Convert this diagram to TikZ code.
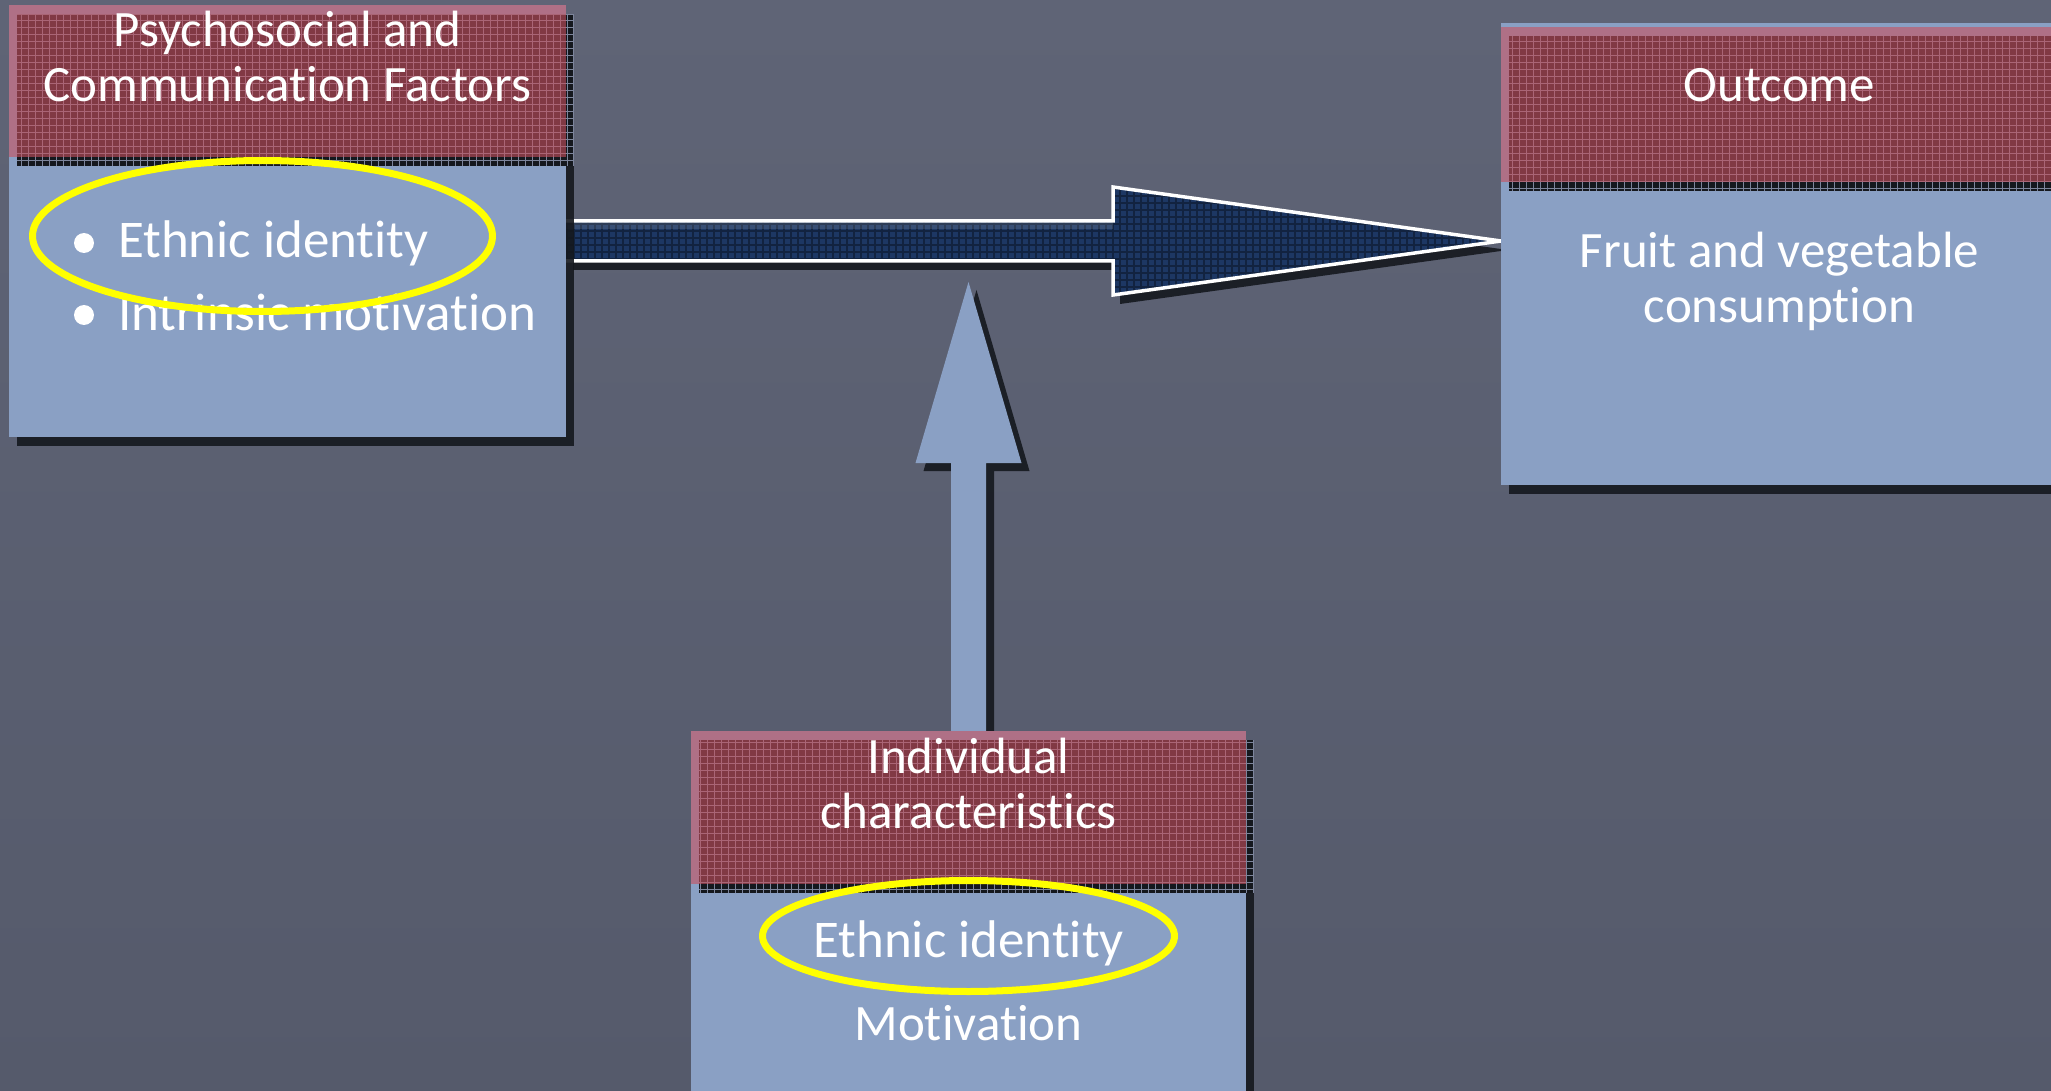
\documentclass[tikz,border=0pt]{standalone}
\usepackage{fontspec}
\setmainfont{Carlito}[Ligatures=NoCommon]
\usetikzlibrary{calc,shapes.geometric,shadows}

\definecolor{board}{HTML}{5F6476}
\definecolor{boardlow}{HTML}{555A6B}
\definecolor{panel}{HTML}{8AA0C4}
\definecolor{shadowink}{HTML}{15181E}
\definecolor{plaidline}{HTML}{7D859C}
\definecolor{headred}{HTML}{C9505E}
\definecolor{navy}{HTML}{1D3763}
\definecolor{marker}{HTML}{FFFF00}

\pgfdeclarelayer{boardlayer}
\pgfdeclarelayer{arrowlayer}
\pgfdeclarelayer{bodylayer}
\pgfdeclarelayer{hshadelayer}
\pgfsetlayers{boardlayer,arrowlayer,bodylayer,hshadelayer,main}

\tikzset{
  body/.style={rectangle, fill=panel, inner sep=0pt, outer sep=0pt,
    drop shadow={shadow xshift=4pt, shadow yshift=-4.5pt, fill=shadowink, opacity=0.9}},
  header/.style={rectangle, fill=headred, fill opacity=0.6, inner sep=0pt, outer sep=0pt,
    minimum width=278.5pt},
  plaid/.style={draw=plaidline, line width=0.5pt},
  words/.style={text=white, inner sep=0pt, outer sep=0pt,
    font=\fontsize{25.5}{27.5}\selectfont},
  itemwords/.style={words, font=\fontsize{26.5}{28}\selectfont},
  title/.style={words, align=center, anchor=base},
  dot/.style={circle, fill=white, minimum size=10pt, inner sep=0pt},
  ring/.style={ellipse, draw=marker, line width=3.5pt, inner sep=0pt},
  uparrow/.style={fill=panel},
  arrowshadow/.style={fill=shadowink, opacity=0.9},
}

\begin{document}
\begin{tikzpicture}[x=0.5pt, y=-0.5pt]
\useasboundingbox (0,0) rectangle (2051,1091);

% ---- panels ----
\begin{pgfonlayer}{bodylayer}
  \node[body, minimum width=278.5pt, minimum height=216pt]   (psy) at (287.5,221)  {};
  \node[body, minimum width=278.5pt, minimum height=231pt]   (out) at (1779.5,254) {};
  \node[body, minimum width=277.5pt, minimum height=189.5pt] (ind) at (968.5,920.5) {};
\end{pgfonlayer}

% ---- panel headers ----
\node[header, minimum height=76pt]   (psyhead) at (287.5,81)    {};
\node[header, minimum height=77.5pt] (outhead) at (1779.5,104.5) {};
\node[header, minimum height=76.5pt, minimum width=277.5pt] (indhead) at (968.5,807.5) {};

% checked shadows behind the headers
\begin{pgfonlayer}{hshadelayer}
  \foreach \h in {psyhead,outhead,indhead}{
    \fill[shadowink] ($(\h.south west)+(8,9)$) rectangle ($(\h.north east)+(8,9)$);
    \begin{scope}
      \clip ($(\h.south west)+(8,9)$) rectangle ($(\h.north east)+(8,9)$);
      \draw[plaid, step=3.5pt] ($(\h.south west)+(8,9)$) grid ($(\h.north east)+(8,9)$);
    \end{scope}
  }
\end{pgfonlayer}

% ---- connectors ----
\coordinate (hline) at (0,241);
\coordinate (vtip)  at (0,282);
\begin{pgfonlayer}{arrowlayer}
  \coordinate (hs) at (psy.east |- hline);
  \coordinate (ht) at (out.west |- hline);
  \def\harrow{(hs) -- ++(0,-20) -- ($(ht)+(-388,-20)$) -- ($(ht)+(-388,-54)$) -- (ht)
    -- ($(ht)+(-388,54)$) -- ($(ht)+(-388,20)$) -- ($(hs)+(0,20)$) -- cycle}
  \fill[arrowshadow, transform canvas={xshift=3.5pt, yshift=-4.5pt}] \harrow;
  \fill[navy] \harrow;
  \begin{scope}
    \clip \harrow;
    \draw[black, opacity=0.35, line width=0.6pt, step=3.5pt] (560,300) grid (1510,180);
    \fill[white, opacity=0.12] ($(hs)+(0,-20)$) rectangle ($(ht)+(-388,-12)$);
  \end{scope}
  \draw[white, line width=1.75pt, line join=miter]
    ($(hs)+(0,-20)$) -- ($(ht)+(-388,-20)$) -- ($(ht)+(-388,-54)$) -- (ht)
    -- ($(ht)+(-388,54)$) -- ($(ht)+(-388,20)$) -- ($(hs)+(0,20)$);

  \coordinate (vb) at (indhead.north);
  \coordinate (vt) at (vb |- vtip);
  \def\varrow{($(vb)+(-17.5,0)$) -- ($(vt)+(-17.5,181)$) -- ($(vt)+(-53,181)$) -- (vt)
    -- ($(vt)+(53,181)$) -- ($(vt)+(17.5,181)$) -- ($(vb)+(17.5,0)$) -- cycle}
  \fill[arrowshadow, transform canvas={xshift=4pt, yshift=-4pt}] \varrow;
  \fill[uparrow] \varrow;
\end{pgfonlayer}

% ---- board ----
\begin{pgfonlayer}{boardlayer}
  \shade[top color=board, bottom color=boardlow] (0,0) rectangle (2051,1091);
\end{pgfonlayer}

% ---- texts (base anchor sits on the last line) ----
\node[title] (psytitle) at (287.5,102)  {Psychosocial and\\Communication Factors};
\node[title] (outtitle) at (1779.5,102) {Outcome};
\node[title] (indtitle) at (968.5,828)  {Individual\\characteristics};
\node[title] (fruit)    at (1779.5,322) {Fruit and vegetable\\consumption};

\node[dot] (b1) at (84,243) {};
\node[dot] (b2) at (84,315) {};
\node[itemwords, anchor=base west] (eth1) at (118,258) {Ethnic identity};
\node[itemwords, anchor=base west] (mot1) at (118,330) {Intrinsic motivation};

\node[itemwords, anchor=base] (eth2) at (968.5,957)  {Ethnic identity};
\node[words, anchor=base] (mot2) at (968.5,1040) {Motivation};

% ---- highlight rings ----
\node[ring, minimum width=230pt, minimum height=75.5pt] (ring1) at (262.5,236) {};
\node[ring, minimum width=206pt, minimum height=55.5pt] (ring2) at (968.5,936) {};
\end{tikzpicture}
\end{document}
